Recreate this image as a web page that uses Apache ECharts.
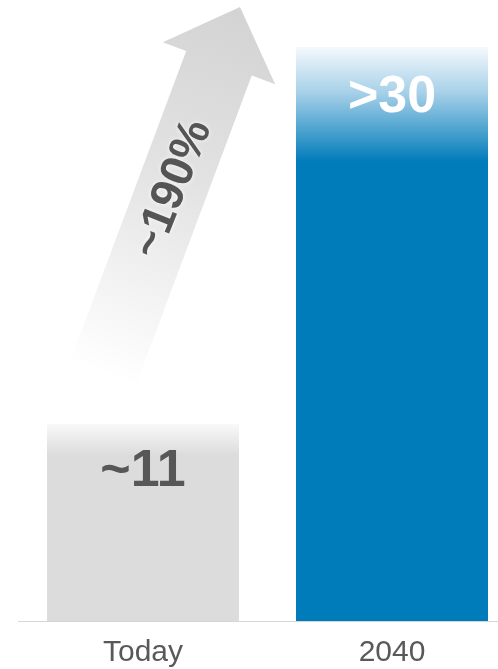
<!DOCTYPE html>
<html>
<head>
<meta charset="utf-8">
<script src="https://cdn.jsdelivr.net/npm/echarts@6/dist/echarts.min.js"></script>
<style>
html,body{margin:0;padding:0;background:#fff;}
#chart{width:498px;height:669px;}
</style>
</head>
<body>
<div id="chart"></div>
<script>
// ---- data ----
const categories = ['Today', '2040'];
const values = [11, 32];
const valueLabels = ['~11', '>30'];
const growthLabel = '~190%';

const FONT = '"Liberation Sans", Arial, Helvetica, sans-serif';

const chart = echarts.init(document.getElementById('chart'), null, {renderer: 'canvas'});

const grayFill = new echarts.graphic.LinearGradient(0, 0, 0, 1, [
  {offset: 0, color: '#f9f9f9'},
  {offset: 0.16, color: '#dcdcdc'},
  {offset: 1, color: '#dcdcdc'}
]);
const blueFill = new echarts.graphic.LinearGradient(0, 0, 0, 1, [
  {offset: 0, color: '#f4f9fc'},
  {offset: 0.08, color: '#a6d0e8'},
  {offset: 0.2, color: '#007cba'},
  {offset: 1, color: '#007cba'}
]);
const fills = [grayFill, blueFill];
const labelColors = ['#575757', '#ffffff'];
const labelDist = [22, 25];

chart.setOption({
  animation: false,
  grid: {left: 18.5, right: -18.5, top: 47, bottom: 48, containLabel: false, outerBoundsMode: 'none'},
  xAxis: {
    type: 'category',
    data: categories,
    axisLine: {show: true, lineStyle: {color: '#d6d6d6', width: 1}},
    axisTick: {show: false},
    axisLabel: {fontFamily: FONT, fontSize: 30, color: '#595959', margin: 17}
  },
  yAxis: {type: 'value', min: 0, max: 32, show: false, splitLine: {show: false}},
  series: [{
    type: 'bar',
    barWidth: 192,
    data: values.map((v, i) => ({
      value: v,
      itemStyle: {color: fills[i]},
      label: {
        show: true,
        position: 'insideTop',
        distance: labelDist[i],
        formatter: valueLabels[i],
        fontFamily: FONT,
        fontWeight: 'bold',
        fontSize: 52,
        color: labelColors[i]
      }
    }))
  }]
});

// ---- growth arrow (decoration) ----
const tail = [102.5, 374.5];
const tip = [240, 7];
const shaftHalf = 35, headLen = 60, headHalf = 60;
const dx = tip[0] - tail[0], dy = tip[1] - tail[1];
const len = Math.sqrt(dx * dx + dy * dy);
const u = [dx / len, dy / len];
const n = [-u[1], u[0]]; // perpendicular
const at = (s, t) => [tail[0] + u[0] * s + n[0] * t, tail[1] + u[1] * s + n[1] * t];
const base = len - headLen;
const pts = [
  at(0, shaftHalf), at(base, shaftHalf), at(base, headHalf), at(len, 0),
  at(base, -headHalf), at(base, -shaftHalf), at(0, -shaftHalf)
];
const angle = Math.atan2(-dy, dx); // counterclockwise radians
const mid = at(len * 0.505, 1);

chart.setOption({
  graphic: [
    {
      type: 'polygon',
      z: -1,
      shape: {points: pts},
      style: {
        fill: new echarts.graphic.LinearGradient(tip[0], tip[1], tail[0], tail[1], [
          {offset: 0, color: '#d3d3d3'},
          {offset: 0.45, color: '#e2e2e2'},
          {offset: 1, color: '#ffffff'}
        ], true)
      }
    },
    {
      type: 'text',
      x: mid[0], y: mid[1],
      rotation: angle - 0.02,
      style: {
        text: growthLabel,
        x: 0, y: 0,
        align: 'center', verticalAlign: 'middle',
        font: 'bold 46px ' + FONT,
        fill: '#555555',
        textShadowColor: 'rgba(255,255,255,0.9)',
        textShadowBlur: 4
      }
    }
  ]
});
</script>
</body>
</html>
